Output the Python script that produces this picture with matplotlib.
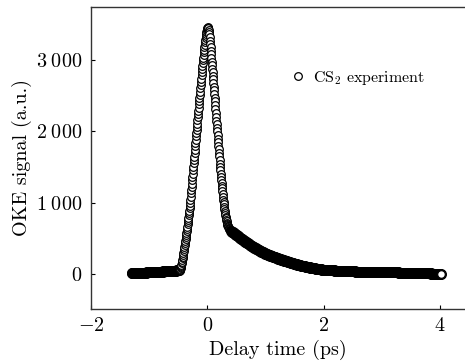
import matplotlib
matplotlib.use('Agg')
import matplotlib.pyplot as plt

# baseline before the pulse (ps, a.u.)
t_pre = [-1.30, -1.29, -1.28, -1.27, -1.26, -1.25, -1.24, -1.23, -1.22, -1.21,
         -1.20, -1.19, -1.18, -1.17, -1.16, -1.15, -1.14, -1.13, -1.12, -1.11,
         -1.10, -1.09, -1.08, -1.07, -1.06, -1.05, -1.04, -1.03, -1.02, -1.01,
         -1.00, -0.99, -0.98, -0.97, -0.96, -0.95, -0.94, -0.93, -0.92, -0.91,
         -0.90, -0.89, -0.88, -0.87, -0.86, -0.85, -0.84, -0.83, -0.82, -0.81,
         -0.80, -0.79, -0.78, -0.77, -0.76, -0.75, -0.74, -0.73, -0.72, -0.71,
         -0.70, -0.69, -0.68, -0.67, -0.66, -0.65, -0.64, -0.63, -0.62, -0.61,
         -0.60, -0.59, -0.58, -0.57, -0.56, -0.55, -0.54, -0.53, -0.52, -0.51,
         -0.50, -0.49, -0.48]
s_pre = [15, 15, 15, 15, 16, 16, 16, 16, 17, 17,
         17, 17, 18, 18, 18, 18, 19, 19, 19, 19,
         20, 20, 21, 21, 21, 21, 22, 22, 23, 23,
         24, 24, 25, 25, 26, 26, 27, 27, 28, 28,
         29, 29, 30, 30, 31, 31, 32, 32, 33, 33,
         34, 34, 35, 35, 36, 36, 37, 37, 38, 38,
         39, 39, 40, 40, 41, 41, 42, 42, 43, 43,
         44, 45, 46, 46, 47, 48, 49, 50, 51, 52,
         53, 55, 57]

# the pulse itself
t_peak = [-0.470, -0.465, -0.460, -0.455, -0.450, -0.445, -0.440, -0.435, -0.430, -0.425,
          -0.420, -0.415, -0.410, -0.405, -0.400, -0.395, -0.390, -0.385, -0.380, -0.375,
          -0.370, -0.365, -0.360, -0.355, -0.350, -0.345, -0.340, -0.335, -0.330, -0.325,
          -0.320, -0.315, -0.310, -0.305, -0.300, -0.295, -0.290, -0.285, -0.280, -0.275,
          -0.270, -0.265, -0.260, -0.255, -0.250, -0.245, -0.240, -0.235, -0.230, -0.225,
          -0.220, -0.215, -0.210, -0.205, -0.200, -0.195, -0.190, -0.185, -0.180, -0.175,
          -0.170, -0.165, -0.160, -0.155, -0.150, -0.145, -0.140, -0.135, -0.130, -0.125,
          -0.120, -0.115, -0.110, -0.105, -0.100, -0.095, -0.090, -0.085, -0.080, -0.075,
          -0.070, -0.065, -0.060, -0.055, -0.050, -0.045, -0.040, -0.035, -0.030, -0.025,
          -0.020, -0.015, -0.010, -0.005, 0.000, 0.005, 0.010, 0.015, 0.020, 0.025,
          0.030, 0.035, 0.040, 0.045, 0.050, 0.055, 0.060, 0.065, 0.070, 0.075,
          0.080, 0.085, 0.090, 0.095, 0.100, 0.105, 0.110, 0.115, 0.120, 0.125,
          0.130, 0.135, 0.140, 0.145, 0.150, 0.155, 0.160, 0.165, 0.170, 0.175,
          0.180, 0.185, 0.190, 0.195, 0.200, 0.205, 0.210, 0.215, 0.220, 0.225,
          0.230, 0.235, 0.240, 0.245, 0.250, 0.255, 0.260, 0.265, 0.270, 0.275,
          0.280, 0.285, 0.290, 0.295, 0.300, 0.305, 0.310, 0.315, 0.320, 0.325,
          0.330, 0.335, 0.340, 0.345, 0.350, 0.355, 0.360, 0.365, 0.370, 0.375,
          0.380, 0.385, 0.390, 0.395, 0.400]
s_peak = [62, 70, 80, 94, 110, 130, 150, 172, 195, 220,
          245, 272, 300, 327, 355, 382, 410, 437, 465, 492,
          520, 547, 575, 605, 635, 665, 695, 727, 760, 792,
          825, 857, 890, 922, 955, 997, 1040, 1085, 1130, 1175,
          1220, 1267, 1315, 1362, 1410, 1457, 1505, 1552, 1600, 1647,
          1695, 1742, 1790, 1837, 1885, 1930, 1975, 2020, 2065, 2110,
          2155, 2200, 2245, 2290, 2335, 2380, 2425, 2470, 2515, 2560,
          2605, 2650, 2695, 2740, 2785, 2828, 2870, 2912, 2955, 2995,
          3035, 3073, 3110, 3145, 3180, 3215, 3250, 3283, 3315, 3343,
          3370, 3393, 3415, 3432, 3445, 3455, 3460, 3455, 3445, 3423,
          3395, 3360, 3320, 3275, 3230, 3180, 3130, 3080, 3030, 2980,
          2930, 2880, 2830, 2780, 2730, 2680, 2630, 2580, 2530, 2475,
          2420, 2365, 2310, 2255, 2200, 2150, 2100, 2050, 2000, 1950,
          1900, 1850, 1800, 1750, 1700, 1650, 1600, 1550, 1500, 1455,
          1410, 1365, 1320, 1280, 1240, 1200, 1160, 1120, 1080, 1045,
          1010, 977, 945, 915, 885, 857, 830, 805, 780, 760,
          740, 722, 705, 692, 680, 670, 660, 652, 645, 637,
          630, 624, 618, 612, 606]

# slow decay tail
t_tail = [0.41, 0.42, 0.43, 0.44, 0.45, 0.46, 0.47, 0.48, 0.49, 0.50,
          0.51, 0.52, 0.53, 0.54, 0.55, 0.56, 0.57, 0.58, 0.59, 0.60,
          0.61, 0.62, 0.63, 0.64, 0.65, 0.66, 0.67, 0.68, 0.69, 0.70,
          0.71, 0.72, 0.73, 0.74, 0.75, 0.76, 0.77, 0.78, 0.79, 0.80,
          0.81, 0.82, 0.83, 0.84, 0.85, 0.86, 0.87, 0.88, 0.89, 0.90,
          0.91, 0.92, 0.93, 0.94, 0.95, 0.96, 0.97, 0.98, 0.99, 1.00,
          1.01, 1.02, 1.03, 1.04, 1.05, 1.06, 1.07, 1.08, 1.09, 1.10,
          1.11, 1.12, 1.13, 1.14, 1.15, 1.16, 1.17, 1.18, 1.19, 1.20,
          1.21, 1.22, 1.23, 1.24, 1.25, 1.26, 1.27, 1.28, 1.29, 1.30,
          1.31, 1.32, 1.33, 1.34, 1.35, 1.36, 1.37, 1.38, 1.39, 1.40,
          1.41, 1.42, 1.43, 1.44, 1.45, 1.46, 1.47, 1.48, 1.49, 1.50,
          1.51, 1.52, 1.53, 1.54, 1.55, 1.56, 1.57, 1.58, 1.59, 1.60,
          1.61, 1.62, 1.63, 1.64, 1.65, 1.66, 1.67, 1.68, 1.69, 1.70,
          1.71, 1.72, 1.73, 1.74, 1.75, 1.76, 1.77, 1.78, 1.79, 1.80,
          1.81, 1.82, 1.83, 1.84, 1.85, 1.86, 1.87, 1.88, 1.89, 1.90,
          1.91, 1.92, 1.93, 1.94, 1.95, 1.96, 1.97, 1.98, 1.99, 2.00,
          2.01, 2.02, 2.03, 2.04, 2.05, 2.06, 2.07, 2.08, 2.09, 2.10,
          2.11, 2.12, 2.13, 2.14, 2.15, 2.16, 2.17, 2.18, 2.19, 2.20,
          2.21, 2.22, 2.23, 2.24, 2.25, 2.26, 2.27, 2.28, 2.29, 2.30,
          2.31, 2.32, 2.33, 2.34, 2.35, 2.36, 2.37, 2.38, 2.39, 2.40,
          2.41, 2.42, 2.43, 2.44, 2.45, 2.46, 2.47, 2.48, 2.49, 2.50,
          2.51, 2.52, 2.53, 2.54, 2.55, 2.56, 2.57, 2.58, 2.59, 2.60,
          2.61, 2.62, 2.63, 2.64, 2.65, 2.66, 2.67, 2.68, 2.69, 2.70,
          2.71, 2.72, 2.73, 2.74, 2.75, 2.76, 2.77, 2.78, 2.79, 2.80,
          2.81, 2.82, 2.83, 2.84, 2.85, 2.86, 2.87, 2.88, 2.89, 2.90,
          2.91, 2.92, 2.93, 2.94, 2.95, 2.96, 2.97, 2.98, 2.99, 3.00,
          3.01, 3.02, 3.03, 3.04, 3.05, 3.06, 3.07, 3.08, 3.09, 3.10,
          3.11, 3.12, 3.13, 3.14, 3.15, 3.16, 3.17, 3.18, 3.19, 3.20,
          3.21, 3.22, 3.23, 3.24, 3.25, 3.26, 3.27, 3.28, 3.29, 3.30,
          3.31, 3.32, 3.33, 3.34, 3.35, 3.36, 3.37, 3.38, 3.39, 3.40,
          3.41, 3.42, 3.43, 3.44, 3.45, 3.46, 3.47, 3.48, 3.49, 3.50,
          3.51, 3.52, 3.53, 3.54, 3.55, 3.56, 3.57, 3.58, 3.59, 3.60,
          3.61, 3.62, 3.63, 3.64, 3.65, 3.66, 3.67, 3.68, 3.69, 3.70,
          3.71, 3.72, 3.73, 3.74, 3.75, 3.76, 3.77, 3.78, 3.79, 3.80,
          3.81, 3.82, 3.83, 3.84, 3.85, 3.86, 3.87, 3.88, 3.89, 3.90,
          3.91, 3.92, 3.93, 3.94, 3.95, 3.96, 3.97, 3.98, 3.99, 4.00,
          4.01, 4.02]
s_tail = [601, 596, 590, 585, 578, 572, 566, 560, 554, 548,
          541, 535, 528, 522, 516, 510, 503, 497, 491, 485,
          479, 473, 467, 462, 456, 451, 445, 440, 434, 429,
          423, 418, 412, 406, 400, 395, 390, 385, 380, 375,
          370, 365, 360, 356, 351, 347, 342, 338, 333, 329,
          324, 320, 315, 311, 307, 303, 299, 295, 291, 288,
          284, 281, 277, 274, 270, 267, 263, 260, 257, 254,
          251, 248, 245, 242, 239, 236, 233, 230, 227, 224,
          221, 218, 215, 212, 209, 206, 203, 200, 197, 195,
          192, 190, 187, 185, 182, 180, 177, 175, 172, 170,
          167, 165, 162, 160, 157, 155, 152, 150, 147, 145,
          142, 140, 137, 135, 132, 130, 128, 126, 124, 122,
          120, 118, 116, 114, 112, 110, 108, 106, 104, 102,
          100, 99, 97, 95, 93, 92, 90, 89, 87, 86,
          84, 83, 81, 80, 78, 77, 76, 75, 73, 72,
          71, 70, 68, 67, 66, 65, 63, 62, 61, 60,
          59, 58, 57, 57, 56, 56, 55, 55, 54, 54,
          53, 53, 52, 52, 51, 51, 50, 50, 49, 49,
          48, 48, 47, 47, 46, 46, 45, 45, 44, 44,
          43, 43, 43, 43, 42, 42, 41, 41, 40, 40,
          40, 40, 39, 39, 38, 38, 38, 38, 37, 37,
          36, 36, 36, 36, 35, 35, 35, 35, 34, 34,
          34, 34, 33, 33, 33, 33, 32, 32, 32, 32,
          31, 31, 31, 31, 30, 30, 30, 30, 30, 30,
          29, 29, 29, 29, 29, 29, 28, 28, 28, 28,
          28, 28, 27, 27, 27, 27, 27, 27, 27, 27,
          26, 26, 26, 26, 26, 26, 25, 25, 25, 25,
          25, 25, 24, 24, 24, 24, 24, 24, 23, 23,
          23, 23, 22, 22, 22, 22, 22, 22, 21, 21,
          21, 21, 20, 20, 20, 20, 19, 19, 19, 19,
          18, 18, 18, 18, 17, 17, 17, 17, 16, 16,
          16, 16, 15, 15, 15, 15, 14, 14, 14, 14,
          13, 13, 13, 13, 12, 12, 12, 12, 11, 11,
          11, 11, 10, 10, 10, 10, 9, 9, 9, 9,
          8, 8, 8, 8, 7, 7, 7, 7, 6, 6,
          6, 6, 5, 5, 5, 5, 4, 4, 4, 4,
          3, 3]

x_ticks = [-2, 0, 2, 4]
x_labels = ['$-2$', '$0$', '$2$', '$4$']
y_ticks = [0, 1000, 2000, 3000]
y_labels = ['$0$', '$1\\;000$', '$2\\;000$', '$3\\;000$']

plt.rcParams['font.family'] = ['cmr10', 'DejaVu Serif']
plt.rcParams['mathtext.fontset'] = 'cm'

fig = plt.figure(figsize=(4.65, 3.64), dpi=100)
ax = fig.add_axes([91 / 465, 1 - 309 / 364, 374 / 465, 302 / 364])

# the dense flat parts merge into a solid black band
mk = dict(marker='o', ls='none', mec='black', mew=0.9)
ax.plot(t_pre, s_pre, mfc='black', ms=7, **mk)
ax.plot(t_peak, s_peak, mfc='white', ms=5.5, label='CS$_2$ experiment', **mk)
ax.plot(t_tail[:-1], s_tail[:-1], mfc='black', ms=7, **mk)
ax.plot(t_tail[-1:], s_tail[-1:], mfc='white', ms=5.5, **mk)

ax.set_xlim(-2, 4.43)
ax.set_ylim(-490, 3745)
ax.set_xticks(x_ticks)
ax.set_xticklabels(x_labels)
ax.set_yticks(y_ticks)
ax.set_yticklabels(y_labels)
ax.tick_params(direction='in', length=3, width=0.8, labelsize=14.5, pad=6)
ax.spines['right'].set_visible(False)
for sp in ['left', 'bottom', 'top']:
    ax.spines[sp].set_linewidth(1.0)
    ax.spines[sp].set_color('#333333')

ax.set_xlabel('Delay time (ps)', fontsize=14.5, labelpad=3)
ax.set_ylabel('OKE signal (a.u.)', fontsize=14.5, labelpad=3)

ax.legend(loc='center left', bbox_to_anchor=(0.495, 0.765), frameon=False,
          handlelength=1.0, handletextpad=0.4, fontsize=11.5, numpoints=1)

fig.savefig('out.png', dpi=100)
